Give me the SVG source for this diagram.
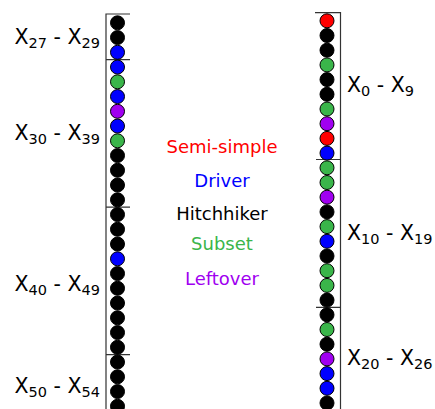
<svg xmlns="http://www.w3.org/2000/svg" width="435" height="409" viewBox="0 0 435 409">
<style>
text{font-family:"DejaVu Sans","Liberation Sans",sans-serif}
.lbl{font-size:20.5px;fill:#000}
.sub{font-size:14.5px}
.leg{font-size:18px;text-anchor:middle}
.frame{stroke:#333;stroke-width:1.2;fill:none}
circle{stroke:#000;stroke-width:1;r:7}
.k{fill:#000}.b{fill:#0000ff}.g{fill:#3ab54a}.p{fill:#a000f0}.r{fill:#ff0000}
</style>
<rect width="435" height="409" fill="#fff"/>
<g id="frames">
<path class="frame" d="M130,14H106V409M106,59.7H130M106,207.2H130M106,354.7H130"/>
<path class="frame" d="M315,12.7H340.5V409M316,159.5H340.5M316,307.3H340.5"/>
</g>
<g id="left-27-29">
<circle class="k" cx="117.5" cy="22.8" r="7"/><circle class="k" cx="117.5" cy="37.55" r="7"/><circle class="b" cx="117.5" cy="52.3" r="7"/>
<text class="lbl" x="100" y="44" text-anchor="end">X<tspan class="sub" dy="4">27</tspan><tspan dy="-4"> - X</tspan><tspan class="sub" dy="4">29</tspan></text>
</g>
<g id="left-30-39">
<circle class="b" cx="117.5" cy="67.05" r="7"/><circle class="g" cx="117.5" cy="81.8" r="7"/><circle class="b" cx="117.5" cy="96.55" r="7"/><circle class="p" cx="117.5" cy="111.3" r="7"/><circle class="b" cx="117.5" cy="126.05" r="7"/><circle class="g" cx="117.5" cy="140.8" r="7"/><circle class="k" cx="117.5" cy="155.55" r="7"/><circle class="k" cx="117.5" cy="170.3" r="7"/><circle class="k" cx="117.5" cy="185.05" r="7"/><circle class="k" cx="117.5" cy="199.8" r="7"/>
<text class="lbl" x="100" y="140" text-anchor="end">X<tspan class="sub" dy="4">30</tspan><tspan dy="-4"> - X</tspan><tspan class="sub" dy="4">39</tspan></text>
</g>
<g id="left-40-49">
<circle class="k" cx="117.5" cy="214.55" r="7"/><circle class="k" cx="117.5" cy="229.3" r="7"/><circle class="k" cx="117.5" cy="244.05" r="7"/><circle class="b" cx="117.5" cy="258.8" r="7"/><circle class="k" cx="117.5" cy="273.55" r="7"/><circle class="k" cx="117.5" cy="288.3" r="7"/><circle class="k" cx="117.5" cy="303.05" r="7"/><circle class="k" cx="117.5" cy="317.8" r="7"/><circle class="k" cx="117.5" cy="332.55" r="7"/><circle class="k" cx="117.5" cy="347.3" r="7"/>
<text class="lbl" x="100" y="291" text-anchor="end">X<tspan class="sub" dy="4">40</tspan><tspan dy="-4"> - X</tspan><tspan class="sub" dy="4">49</tspan></text>
</g>
<g id="left-50-54">
<circle class="k" cx="117.5" cy="362.05" r="7"/><circle class="k" cx="117.5" cy="376.8" r="7"/><circle class="k" cx="117.5" cy="391.55" r="7"/><circle class="k" cx="117.5" cy="406.3" r="7"/><circle class="k" cx="117.5" cy="421.05" r="7"/>
<text class="lbl" x="100" y="393" text-anchor="end">X<tspan class="sub" dy="4">50</tspan><tspan dy="-4"> - X</tspan><tspan class="sub" dy="4">54</tspan></text>
</g>
<g id="right-0-9">
<circle class="r" cx="327" cy="20.8" r="7"/><circle class="k" cx="327" cy="35.5" r="7"/><circle class="k" cx="327" cy="50.2" r="7"/><circle class="g" cx="327" cy="64.9" r="7"/><circle class="k" cx="327" cy="79.6" r="7"/><circle class="k" cx="327" cy="94.3" r="7"/><circle class="g" cx="327" cy="109" r="7"/><circle class="p" cx="327" cy="123.7" r="7"/><circle class="r" cx="327" cy="138.4" r="7"/><circle class="b" cx="327" cy="153.1" r="7"/>
<text class="lbl" x="347" y="92">X<tspan class="sub" dy="4">0</tspan><tspan dy="-4"> - X</tspan><tspan class="sub" dy="4">9</tspan></text>
</g>
<g id="right-10-19">
<circle class="g" cx="327" cy="167.8" r="7"/><circle class="g" cx="327" cy="182.5" r="7"/><circle class="p" cx="327" cy="197.2" r="7"/><circle class="k" cx="327" cy="211.9" r="7"/><circle class="g" cx="327" cy="226.6" r="7"/><circle class="b" cx="327" cy="241.3" r="7"/><circle class="k" cx="327" cy="256" r="7"/><circle class="g" cx="327" cy="270.7" r="7"/><circle class="g" cx="327" cy="285.4" r="7"/><circle class="k" cx="327" cy="300.1" r="7"/>
<text class="lbl" x="347" y="240">X<tspan class="sub" dy="4">10</tspan><tspan dy="-4"> - X</tspan><tspan class="sub" dy="4">19</tspan></text>
</g>
<g id="right-20-26">
<circle class="k" cx="327" cy="314.8" r="7"/><circle class="g" cx="327" cy="329.5" r="7"/><circle class="k" cx="327" cy="344.2" r="7"/><circle class="p" cx="327" cy="358.9" r="7"/><circle class="b" cx="327" cy="373.6" r="7"/><circle class="b" cx="327" cy="388.3" r="7"/><circle class="k" cx="327" cy="403" r="7"/>
<text class="lbl" x="347" y="365">X<tspan class="sub" dy="4">20</tspan><tspan dy="-4"> - X</tspan><tspan class="sub" dy="4">26</tspan></text>
</g>
<g id="legend">
<text class="leg" x="222" y="152.7" fill="#ff0000">Semi-simple</text>
<text class="leg" x="222" y="186.7" fill="#0000ff">Driver</text>
<text class="leg" x="222" y="220" fill="#000">Hitchhiker</text>
<text class="leg" x="222" y="250" fill="#3ab54a">Subset</text>
<text class="leg" x="222" y="285" fill="#a000f0">Leftover</text>
</g>
</svg>
